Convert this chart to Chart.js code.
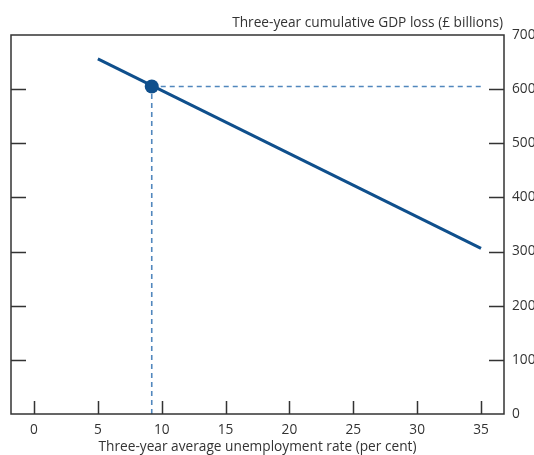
<!DOCTYPE html>
<html>
<head>
<meta charset="utf-8">
<script src="https://cdn.jsdelivr.net/npm/chart.js@4/dist/chart.umd.min.js"></script>
<style>
html,body{margin:0;padding:0;background:#fff;overflow:hidden;}
#wrap{width:560px;height:455px;}
</style>
</head>
<body>
<div id="wrap"><canvas id="c" width="560" height="455"></canvas></div>
<script>
// Data
const unemploymentRate = [5, 35];
const gdpLoss = [656, 306];
const markerRate = [9.22];
const markerLoss = [605];
const xTickValues = [0, 5, 10, 15, 20, 25, 30, 35];
const yTickValues = [0, 100, 200, 300, 400, 500, 600, 700];
const yTitle = 'Three-year cumulative GDP loss (£ billions)';
const xTitle = 'Three-year average unemployment rate (per cent)';

const FONT = '"Open Sans", "Noto Sans", sans-serif';
const FSIZE = 13.7;
const AXIS = '#333333';
const LINE = '#0f4f8c';
const DASH = '#5187bd';

const frame = {
  id: 'frame',
  afterDatasetsDraw(chart) {
    const ctx = chart.ctx, a = chart.chartArea;
    const xs = chart.scales.x, ys = chart.scales.y;
    ctx.save();
    ctx.strokeStyle = AXIS;
    ctx.lineWidth = 1.5;
    ctx.strokeRect(a.left, a.top, a.right - a.left, a.bottom - a.top);
    ctx.beginPath();
    xs.ticks.forEach(t => {
      const px = Math.round(xs.getPixelForValue(t.value)) + 0.5;
      ctx.moveTo(px, a.bottom);
      ctx.lineTo(px, a.bottom - 13);
    });
    ys.ticks.forEach(t => {
      if (t.value <= ys.min || t.value >= ys.max) return;
      const py = Math.round(ys.getPixelForValue(t.value)) + 0.5;
      ctx.moveTo(a.left, py); ctx.lineTo(a.left + 15, py);
      ctx.moveTo(a.right, py); ctx.lineTo(a.right - 15, py);
    });
    ctx.stroke();
    ctx.fillStyle = AXIS;
    ctx.font = FSIZE + 'px ' + FONT;
    ctx.textAlign = 'right';
    ctx.textBaseline = 'middle';
    ctx.fillText(yTitle, a.right - 1, 23);
    ctx.restore();
  }
};

new Chart(document.getElementById('c'), {
  type: 'scatter',
  data: {
    datasets: [
      {
        data: unemploymentRate.map((x, i) => ({x, y: gdpLoss[i]})),
        showLine: true, borderColor: LINE, borderWidth: 3, pointRadius: 0, order: 2
      },
      {
        data: [{x: markerRate[0], y: 0}, {x: markerRate[0], y: markerLoss[0]}],
        showLine: true, borderColor: DASH, borderWidth: 1.6, borderDash: [5, 4], pointRadius: 0, order: 3
      },
      {
        data: [{x: markerRate[0], y: markerLoss[0]}, {x: xTickValues[xTickValues.length - 1], y: markerLoss[0]}],
        showLine: true, borderColor: DASH, borderWidth: 1.6, borderDash: [5, 4], pointRadius: 0, order: 3
      },
      {
        data: markerRate.map((x, i) => ({x, y: markerLoss[i]})),
        showLine: false, pointRadius: 7, pointBackgroundColor: LINE, pointBorderColor: LINE, pointBorderWidth: 0, order: 1
      }
    ]
  },
  options: {
    responsive: false,
    animation: false,
    devicePixelRatio: 1,
    layout: {padding: {top: 35, left: 11, right: 0, bottom: 0}},
    plugins: {legend: {display: false}, tooltip: {enabled: false}},
    scales: {
      x: {
        type: 'linear', min: -1.8, max: 36.8,
        afterBuildTicks: s => { s.ticks = xTickValues.map(v => ({value: v})); },
        afterFit: s => { s.height = 41; },
        grid: {display: false, drawTicks: false},
        border: {display: false},
        ticks: {color: AXIS, font: {family: FONT, size: FSIZE}, padding: 8, maxRotation: 0},
        title: {display: true, text: xTitle, color: AXIS, font: {family: FONT, size: FSIZE}, padding: {top: 1, bottom: 0}}
      },
      y: {
        type: 'linear', position: 'right', min: 0, max: 700,
        afterBuildTicks: s => { s.ticks = yTickValues.map(v => ({value: v})); },
        afterFit: s => { s.width = 56; },
        grid: {display: false, drawTicks: false},
        border: {display: false},
        ticks: {color: AXIS, font: {family: FONT, size: FSIZE}, padding: 8}
      }
    }
  },
  plugins: [frame]
});
</script>
</body>
</html>
